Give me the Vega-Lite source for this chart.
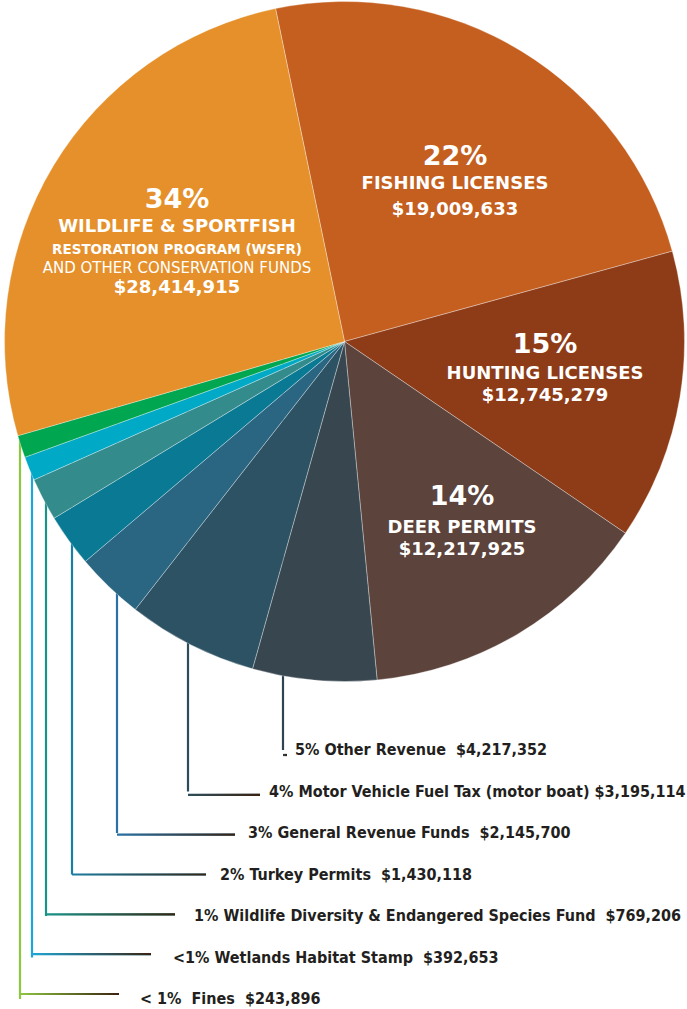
{
  "$schema": "https://vega.github.io/schema/vega-lite/v6.json",
  "autosize": {"type": "none"},
  "width": 685,
  "height": 683,
  "padding": {"left": 2, "top": 0, "right": 0, "bottom": 326},
  "background": "white",
  "config": {"view": {"stroke": null}},
  "data": {
    "values": [
      {"ord": 0, "source": "Fishing Licenses", "label": "FISHING LICENSES", "pct": "22%", "amount": 19009633, "share": 23.97},
      {"ord": 1, "source": "Hunting Licenses", "label": "HUNTING LICENSES", "pct": "15%", "amount": 12745279, "share": 13.81},
      {"ord": 2, "source": "Deer Permits", "label": "DEER PERMITS", "pct": "14%", "amount": 12217925, "share": 13.94},
      {"ord": 3, "source": "Other Revenue", "label": "5% Other Revenue\u00a0 $4,217,352", "pct": "5%", "amount": 4217352, "share": 5.89},
      {"ord": 4, "source": "Motor Vehicle Fuel Tax (motor boat)", "label": "4% Motor Vehicle Fuel Tax (motor boat) $3,195,114", "pct": "4%", "amount": 3195114, "share": 6.19},
      {"ord": 5, "source": "General Revenue Funds", "label": "3% General Revenue Funds\u00a0 $2,145,700", "pct": "3%", "amount": 2145700, "share": 3.25},
      {"ord": 6, "source": "Turkey Permits", "label": "2% Turkey Permits\u00a0 $1,430,118", "pct": "2%", "amount": 1430118, "share": 2.5},
      {"ord": 7, "source": "Wildlife Diversity & Endangered Species Fund", "label": "1% Wildlife Diversity & Endangered Species Fund\u00a0 $769,206", "pct": "1%", "amount": 769206, "share": 2.03},
      {"ord": 8, "source": "Wetlands Habitat Stamp", "label": "<1% Wetlands Habitat Stamp\u00a0 $392,653", "pct": "<1%", "amount": 392653, "share": 1.14},
      {"ord": 9, "source": "Fines", "label": "< 1%\u00a0 Fines\u00a0 $243,896", "pct": "< 1%", "amount": 243896, "share": 1.06},
      {"ord": 10, "source": "Wildlife & Sportfish Restoration Program (WSFR) and Other Conservation Funds", "label": "WILDLIFE & SPORTFISH", "detail": "RESTORATION PROGRAM (WSFR)", "detail2": "AND OTHER CONSERVATION FUNDS", "pct": "34%", "amount": 28414915, "share": 26.22}
    ]
  },
  "resolve": {"scale": {"x": "independent", "y": "independent"}},
  "layer": [
    {
      "transform": [{"filter": "datum.ord >= 3 && datum.ord <= 9"}],
      "mark": {"type": "rule", "strokeWidth": 2.2},
      "encoding": {
        "x": {"field": "ord", "type": "quantitative", "axis": null,
              "scale": {"domain": [3, 4, 5, 6, 7, 8, 9], "range": [281, 186, 115, 70, 44, 30, 18], "zero": false, "nice": false}},
        "y": {"field": "ord", "type": "quantitative", "axis": null,
              "scale": {"domain": [3, 9], "range": [750, 999], "zero": false, "nice": false}},
        "y2": {"datum": -7},
        "stroke": {"field": "source", "type": "nominal", "legend": null,
                   "scale": {"domain": ["Other Revenue", "Motor Vehicle Fuel Tax (motor boat)", "General Revenue Funds", "Turkey Permits", "Wildlife Diversity & Endangered Species Fund", "Wetlands Habitat Stamp", "Fines"],
                             "range": ["#2f4350", "#2e4d5c", "#2a72a6", "#1b7ea3", "#1a9488", "#1fa6d6", "#8dc641"]}}
      }
    },
    {
      "transform": [{"filter": "datum.ord >= 3 && datum.ord <= 9"}],
      "mark": {"type": "bar", "height": 2.2},
      "encoding": {
        "x": {"field": "ord", "type": "quantitative", "axis": null,
              "scale": {"domain": [3, 4, 5, 6, 7, 8, 9, 243896, 392653, 769206, 1430118, 2145700, 3195114, 4217352],
                        "range": [281, 186, 115, 70, 44, 30, 18, 117, 149, 173, 204, 233, 258, 285], "zero": false, "nice": false}},
        "x2": {"field": "amount"},
        "y": {"field": "ord", "type": "quantitative", "axis": null,
              "scale": {"domain": [3, 9], "range": [750, 999], "zero": false, "nice": false}},
        "fill": {"field": "source", "type": "nominal", "legend": null,
                 "scale": {"domain": ["Other Revenue", "Motor Vehicle Fuel Tax (motor boat)", "General Revenue Funds", "Turkey Permits", "Wildlife Diversity & Endangered Species Fund", "Wetlands Habitat Stamp", "Fines"],
                           "range": ["#2f4350", "#2e4d5c", "#2a72a6", "#1b7ea3", "#1a9488", "#1fa6d6", "#8dc641"]}}
      }
    },
    {
      "transform": [{"filter": "datum.ord >= 3 && datum.ord <= 9"}],
      "mark": {"type": "bar", "height": 2.2,
               "fill": {"gradient": "linear", "x1": 0, "x2": 1, "y1": 0, "y2": 0,
                        "stops": [{"offset": 0, "color": "rgba(58,34,16,0)"}, {"offset": 1, "color": "#3a2210"}]}},
      "encoding": {
        "x": {"field": "ord", "type": "quantitative", "axis": null,
              "scale": {"domain": [3, 4, 5, 6, 7, 8, 9, 243896, 392653, 769206, 1430118, 2145700, 3195114, 4217352],
                        "range": [281, 186, 115, 70, 44, 30, 18, 117, 149, 173, 204, 233, 258, 285], "zero": false, "nice": false}},
        "x2": {"field": "amount"},
        "y": {"field": "ord", "type": "quantitative", "axis": null,
              "scale": {"domain": [3, 9], "range": [750, 999], "zero": false, "nice": false}}
      }
    },
    {
      "mark": {"type": "arc", "outerRadius": 340, "stroke": "#ffffff", "strokeWidth": 0.6, "strokeOpacity": 0.55},
      "encoding": {
        "theta": {"field": "share", "type": "quantitative", "stack": true,
                  "scale": {"range": [-0.2042, 6.079]}},
        "order": {"field": "ord", "type": "quantitative"},
        "color": {"field": "source", "type": "nominal", "legend": null,
                  "scale": {"domain": ["Fishing Licenses", "Hunting Licenses", "Deer Permits", "Other Revenue", "Motor Vehicle Fuel Tax (motor boat)", "General Revenue Funds", "Turkey Permits", "Wildlife Diversity & Endangered Species Fund", "Wetlands Habitat Stamp", "Fines", "Wildlife & Sportfish Restoration Program (WSFR) and Other Conservation Funds"],
                            "range": ["#c55f1f", "#8e3b17", "#5c433b", "#37464f", "#2d5263", "#2a6582", "#0a7a94", "#348b8c", "#00a9c6", "#00a650", "#e5902a"]}}
      }
    },
    {
      "transform": [{"filter": "datum.ord <= 2 || datum.ord == 10"}],
      "mark": {"type": "text", "font": "DejaVu Sans", "fontWeight": "bold", "fontSize": 27, "color": "#ffffff", "align": "center", "baseline": "middle"},
      "encoding": {
        "x": {"field": "ord", "type": "quantitative", "axis": null,
              "scale": {"domain": [0, 1, 2, 10], "range": [453, 543, 460, 175], "zero": false, "nice": false}},
        "y": {"field": "ord", "type": "quantitative", "axis": null,
              "scale": {"domain": [0, 1, 2, 10], "range": [157, 345, 497, 200], "zero": false, "nice": false}},
        "text": {"field": "pct"}
      }
    },
    {
      "transform": [{"filter": "datum.ord <= 2 || datum.ord == 10"}],
      "mark": {"type": "text", "font": "DejaVu Sans", "fontWeight": "bold", "fontSize": 18, "color": "#ffffff", "align": "center", "baseline": "middle"},
      "encoding": {
        "x": {"field": "ord", "type": "quantitative", "axis": null,
              "scale": {"domain": [0, 1, 2, 10], "range": [453, 543, 460, 175], "zero": false, "nice": false}},
        "y": {"field": "ord", "type": "quantitative", "axis": null,
              "scale": {"domain": [0, 1, 2, 10], "range": [184, 374, 528, 227], "zero": false, "nice": false}},
        "text": {"field": "label"}
      }
    },
    {
      "transform": [{"filter": "datum.ord <= 2 || datum.ord == 10"}],
      "mark": {"type": "text", "font": "DejaVu Sans", "fontWeight": "bold", "fontSize": 18, "color": "#ffffff", "align": "center", "baseline": "middle"},
      "encoding": {
        "x": {"field": "ord", "type": "quantitative", "axis": null,
              "scale": {"domain": [0, 1, 2, 10], "range": [453, 543, 460, 175], "zero": false, "nice": false}},
        "y": {"field": "ord", "type": "quantitative", "axis": null,
              "scale": {"domain": [0, 1, 2, 10], "range": [210, 396, 550, 288], "zero": false, "nice": false}},
        "text": {"field": "amount", "type": "quantitative", "format": "$,.0f"}
      }
    },
    {
      "transform": [{"filter": "datum.ord == 10"}],
      "mark": {"type": "text", "font": "DejaVu Sans", "fontWeight": "bold", "fontSize": 13.5, "color": "#ffffff", "align": "center", "baseline": "middle", "dy": 23},
      "encoding": {
        "x": {"field": "ord", "type": "quantitative", "axis": null,
              "scale": {"domain": [0, 1, 2, 10], "range": [453, 543, 460, 175], "zero": false, "nice": false}},
        "y": {"field": "ord", "type": "quantitative", "axis": null,
              "scale": {"domain": [0, 1, 2, 10], "range": [184, 374, 528, 227], "zero": false, "nice": false}},
        "text": {"field": "detail"}
      }
    },
    {
      "transform": [{"filter": "datum.ord == 10"}],
      "mark": {"type": "text", "font": "DejaVu Sans", "fontWeight": "normal", "fontSize": 15, "color": "#ffffff", "align": "center", "baseline": "middle", "dy": 41},
      "encoding": {
        "x": {"field": "ord", "type": "quantitative", "axis": null,
              "scale": {"domain": [0, 1, 2, 10], "range": [453, 543, 460, 175], "zero": false, "nice": false}},
        "y": {"field": "ord", "type": "quantitative", "axis": null,
              "scale": {"domain": [0, 1, 2, 10], "range": [184, 374, 528, 227], "zero": false, "nice": false}},
        "text": {"field": "detail2"}
      }
    },
    {
      "transform": [{"filter": "datum.ord >= 3 && datum.ord <= 9"}],
      "mark": {"type": "text", "font": "DejaVu Sans Condensed, Liberation Sans, sans-serif", "fontWeight": "bold", "fontSize": 16, "color": "#231f20", "align": "left", "baseline": "middle"},
      "encoding": {
        "x": {"field": "ord", "type": "quantitative", "axis": null,
              "scale": {"domain": [3, 4, 5, 6, 7, 8, 9], "range": [293, 267, 246, 218, 192, 171, 138], "zero": false, "nice": false}},
        "y": {"field": "ord", "type": "quantitative", "axis": null,
              "scale": {"domain": [3, 9], "range": [750, 999], "zero": false, "nice": false}},
        "text": {"field": "label"}
      }
    }
  ]
}
